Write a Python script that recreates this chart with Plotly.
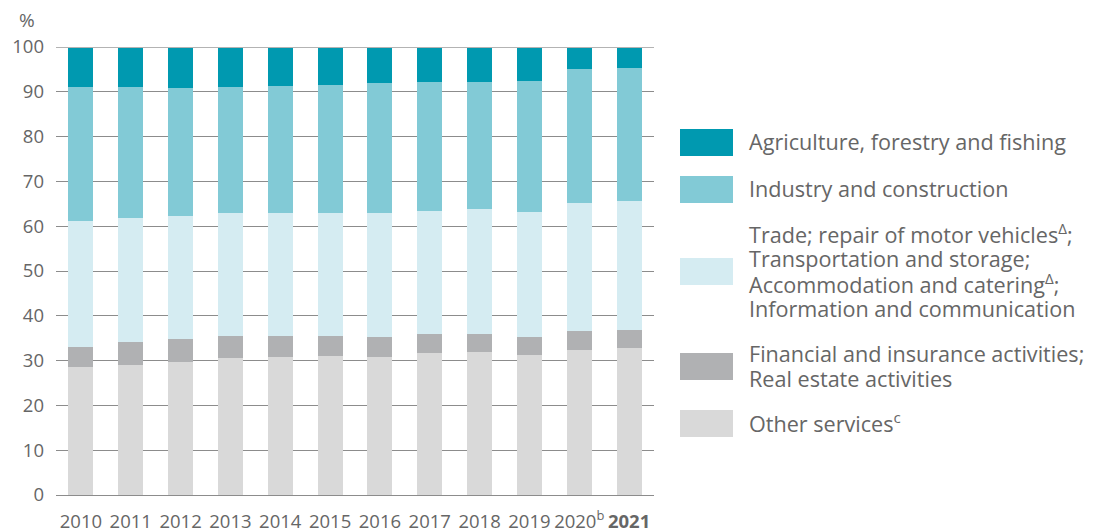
import plotly.graph_objects as go

years = ["2010", "2011", "2012", "2013", "2014", "2015", "2016", "2017", "2018", "2019", "2020", "2021"]
year_labels = ["2010", "2011", "2012", "2013", "2014", "2015", "2016", "2017", "2018", "2019",
               "2020<sup>b</sup>", "<b>2021</b>"]

other_services = [28.6, 29.0, 29.7, 30.5, 30.8, 31.0, 30.8, 31.7, 31.9, 31.3, 32.4, 32.9]
financial = [4.4, 5.2, 5.1, 4.9, 4.7, 4.5, 4.5, 4.2, 4.1, 4.0, 4.2, 4.0]
trade = [28.2, 27.6, 27.5, 27.5, 27.4, 27.4, 27.6, 27.6, 27.8, 27.9, 28.6, 28.7]
industry = [29.8, 29.2, 28.6, 28.1, 28.4, 28.6, 29.0, 28.7, 28.5, 29.2, 30.0, 29.7]
agriculture = [9.0, 9.0, 9.1, 9.0, 8.7, 8.5, 8.1, 7.8, 7.7, 7.6, 4.8, 4.7]

names = {
    "other": ["Other services<sup>c</sup>"],
    "fin": ["Financial and insurance activities;", "Real estate activities"],
    "trade": ["Trade; repair of motor vehicles<sup>Δ</sup>;", "Transportation and storage;",
              "Accommodation and catering<sup>Δ</sup>;", "Information and communication"],
    "ind": ["Industry and construction"],
    "agr": ["Agriculture, forestry and fishing"],
}
colors = {"agr": "#0099b0", "ind": "#82cad6", "trade": "#d5ecf2", "fin": "#b0b1b3", "other": "#d9d9d9"}

series = [
    ("other", other_services),
    ("fin", financial),
    ("trade", trade),
    ("ind", industry),
    ("agr", agriculture),
]

FONT = "Open Sans"
TXT = "#666666"
W, H = 1102, 532
L, R, T, B = 56, 654, 47, 495

fig = go.Figure()
for key, vals in series:
    fig.add_trace(go.Bar(x=years, y=vals, name=" ".join(names[key]),
                         marker=dict(color=colors[key], line=dict(width=0)), showlegend=False))


def px_x(p):
    return (p - L) / (R - L)


def px_y(p):
    return (B - p) / (B - T)


# custom legend: swatch top/bottom pixels
legend_pos = [("agr", 129, 156), ("ind", 176, 203), ("trade", 258, 285),
              ("fin", 353, 380), ("other", 410, 437)]
LINE = 25
shapes = []
annotations = []
for key, y0, y1 in legend_pos:
    shapes.append(dict(type="rect", xref="paper", yref="paper",
                       x0=px_x(680), x1=px_x(733), y0=px_y(y1), y1=px_y(y0),
                       fillcolor=colors[key], line=dict(width=0)))
    lines = names[key]
    mid = (y0 + y1) / 2 - 1
    start = mid - LINE * (len(lines) - 1) / 2
    for i, ln in enumerate(lines):
        annotations.append(dict(xref="paper", yref="paper", x=px_x(747), y=px_y(start + i * LINE),
                                xanchor="left", yanchor="middle", align="left", showarrow=False,
                                text=ln, font=dict(family=FONT, size=21.6, color=TXT)))

annotations.append(dict(xref="paper", yref="paper", x=px_x(17), y=px_y(20),
                        xanchor="left", yanchor="middle", showarrow=False, text="%",
                        font=dict(family=FONT, size=19, color=TXT)))

# top gridline lighter
shapes.append(dict(type="line", xref="paper", yref="y", x0=0, x1=1, y0=100, y1=100,
                   line=dict(color="#b3b3b3", width=2)))

fig.update_layout(
    width=W, height=H,
    margin=dict(l=L, r=W - R, t=T, b=H - B, pad=0),
    barmode="stack", bargap=0.5,
    plot_bgcolor="white", paper_bgcolor="white",
    font=dict(family=FONT, size=18, color=TXT),
    shapes=shapes, annotations=annotations,
    xaxis=dict(tickmode="array", tickvals=years, ticktext=year_labels, showgrid=False,
               showline=False, ticks="", tickfont=dict(size=18.5, color=TXT), ticklabelstandoff=13,
               automargin=False),
    yaxis=dict(range=[0, 100], tickmode="linear", tick0=0, dtick=10, showgrid=True,
               gridcolor="#8c8c8c", gridwidth=1, zeroline=True, zerolinecolor="#8c8c8c",
               zerolinewidth=1, showline=False, ticks="", ticklabelstandoff=11,
               tickfont=dict(size=18.5, color=TXT), automargin=False),
)

fig.write_html("out.html", config={"displayModeBar": False},
               post_script="document.body.style.margin='0';")
